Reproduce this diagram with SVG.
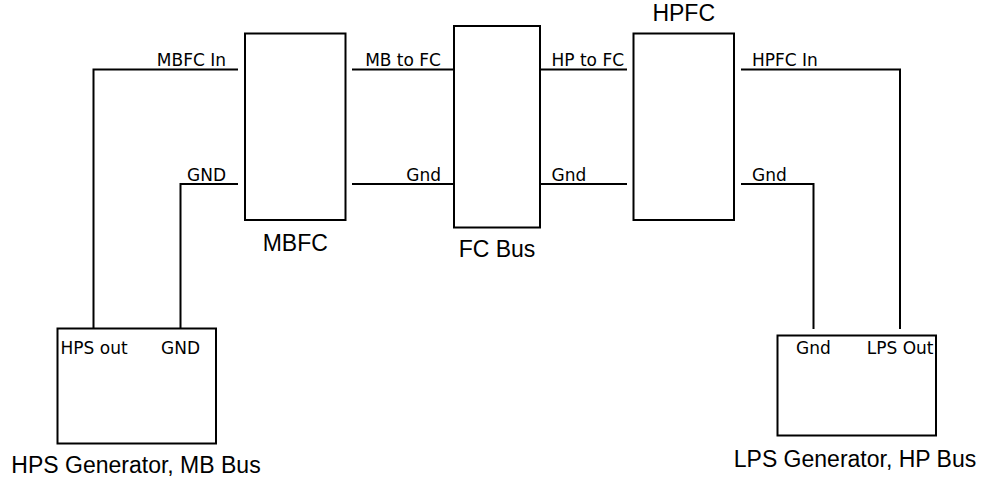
<svg xmlns="http://www.w3.org/2000/svg" width="982" height="484" viewBox="0 0 982 484">
<style>
.box{fill:#fff;stroke:#000;stroke-width:2}
.wire{fill:none;stroke:#000;stroke-width:2}
.lbl{font-family:"DejaVu Sans",Verdana,sans-serif;font-size:17px;fill:#000}
.title{font-family:"Liberation Sans",Arial,sans-serif;font-size:23px;fill:#000;text-anchor:middle}
</style>
<rect width="982" height="484" fill="#fff"/>
<g id="connectors">
<polyline class="wire" points="238,69.5 93.5,69.5 93.5,328"/>
<polyline class="wire" points="238,184 180.5,184 180.5,328"/>
<line class="wire" x1="352" y1="69.5" x2="454" y2="69.5"/>
<line class="wire" x1="352" y1="184" x2="454" y2="184"/>
<line class="wire" x1="540" y1="69.5" x2="627" y2="69.5"/>
<line class="wire" x1="540" y1="184" x2="627" y2="184"/>
<polyline class="wire" points="741,69.5 900,69.5 900,329"/>
<polyline class="wire" points="741,184 813.5,184 813.5,329"/>
<text class="lbl" x="226" y="65.5" text-anchor="end">MBFC In</text>
<text class="lbl" x="226" y="180.5" text-anchor="end">GND</text>
<text class="lbl" x="441" y="65.5" text-anchor="end">MB to FC</text>
<text class="lbl" x="441" y="180.5" text-anchor="end">Gnd</text>
<text class="lbl" x="551.5" y="65.5">HP to FC</text>
<text class="lbl" x="551.5" y="180.5">Gnd</text>
<text class="lbl" x="752" y="65.5">HPFC In</text>
<text class="lbl" x="752" y="180.5">Gnd</text>
</g>
<g id="mbfc">
<rect class="box" x="245" y="33.5" width="100.5" height="186.5"/>
<text class="title" x="295.3" y="251">MBFC</text>
</g>
<g id="fcbus">
<rect class="box" x="454" y="26" width="86" height="201.5"/>
<text class="title" x="497" y="256.5">FC Bus</text>
</g>
<g id="hpfc">
<rect class="box" x="633.5" y="33.5" width="100.5" height="186.5"/>
<text class="title" x="683.7" y="21">HPFC</text>
</g>
<g id="hps-generator">
<rect class="box" x="57.5" y="328.5" width="158.5" height="115"/>
<text class="lbl" x="60.5" y="354">HPS out</text>
<text class="lbl" x="161" y="354">GND</text>
<text class="title" x="136" y="473">HPS Generator, MB Bus</text>
</g>
<g id="lps-generator">
<rect class="box" x="777.5" y="335.5" width="158.5" height="100"/>
<text class="lbl" x="796" y="354">Gnd</text>
<text class="lbl" x="933.5" y="354" text-anchor="end">LPS Out</text>
<text class="title" x="855" y="466.5">LPS Generator, HP Bus</text>
</g>
</svg>
